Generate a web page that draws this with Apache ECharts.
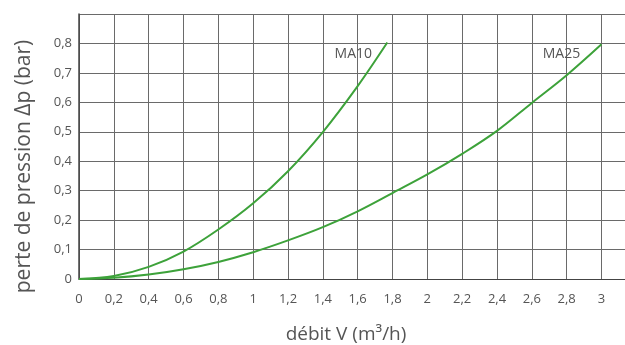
<!DOCTYPE html>
<html><head><meta charset="utf-8">
<script src="https://cdn.jsdelivr.net/npm/echarts@6/dist/echarts.min.js"></script>
<style>html,body{margin:0;padding:0;background:#fff}#c{width:625px;height:345px}</style>
</head><body><div id="c"></div>
<script>
// Data
var ma10X = [0, 0.2, 0.4, 0.6, 0.8, 1.0, 1.2, 1.4, 1.6, 1.77];
var ma10Y = [0, 0.01, 0.041, 0.093, 0.168, 0.257, 0.366, 0.499, 0.655, 0.803];
var ma25X = [0, 0.2, 0.4, 0.6, 0.8, 1.0, 1.2, 1.4, 1.6, 1.8, 2.0, 2.2, 2.4, 2.6, 2.8, 3.0];
var ma25Y = [0, 0.004, 0.015, 0.033, 0.058, 0.091, 0.131, 0.176, 0.23, 0.292, 0.355, 0.425, 0.503, 0.598, 0.692, 0.797];
var seriesNames = ['MA10', 'MA25'];
var labelAt = [[1.575, 0.765], [2.77, 0.765]];
var xTitle = 'débit V (m³/h)';
var yTitle = 'perte de pression Δp (bar)';

function pairs(xs, ys){ return xs.map(function(x,i){return [x, ys[i]];}); }
function fmt(v){ return String(Math.round(v*10)/10).replace('.', ','); }

var green = '#3da23a';
var gridColor = '#6a6a6a';
var txt = '#555';
var font = 'Open Sans';

var chart = echarts.init(document.getElementById('c'), null, {renderer:'canvas'});
function mkSeries(name, data, lab){
  return {
    type:'line', name:name, data:data, smooth:0.35, symbol:'none',
    lineStyle:{color:green, width:2}, itemStyle:{color:green},
    markPoint:{symbol:'circle', symbolSize:1, silent:true,
      itemStyle:{color:'rgba(0,0,0,0)'},
      data:[{coord:lab, value:name}],
      label:{show:true, formatter:name, color:txt, fontSize:14, fontFamily:font, position:'inside'}}
  };
}
chart.setOption({
  animation:false,
  grid:{left:79, top:14, bottom:66, right:0, containLabel:false, outerBoundsMode:'none'},
  xAxis:{type:'value', min:0, max:3.135, interval:0.2,
    name:xTitle, nameLocation:'middle', nameGap:46,
    nameTextStyle:{color:txt, fontSize:19, fontFamily:font, padding:[0,12,0,0]},
    axisLine:{show:true, lineStyle:{color:'#444', width:1}},
    axisTick:{show:false},
    axisLabel:{color:txt, fontSize:13, fontFamily:font, margin:14,
      formatter:function(v){ return v > 3.05 ? '' : fmt(v); }},
    splitLine:{show:true, lineStyle:{color:gridColor, width:1}}},
  yAxis:{type:'value', min:0, max:0.9, interval:0.1,
    name:yTitle, nameLocation:'middle', nameGap:44, nameRotate:90,
    nameTextStyle:{color:txt, fontSize:21, fontFamily:font, padding:[0,40,0,0]},
    axisLine:{show:true, lineStyle:{color:'#444', width:1.5}},
    axisTick:{show:false},
    axisLabel:{color:txt, fontSize:13, fontFamily:font, margin:7,
      formatter:function(v){ return v >= 0.85 ? '' : fmt(v); }},
    splitLine:{show:true, lineStyle:{color:gridColor, width:1}}},
  series:[
    mkSeries(seriesNames[0], pairs(ma10X, ma10Y), labelAt[0]),
    mkSeries(seriesNames[1], pairs(ma25X, ma25Y), labelAt[1])
  ]
});
</script></body></html>
